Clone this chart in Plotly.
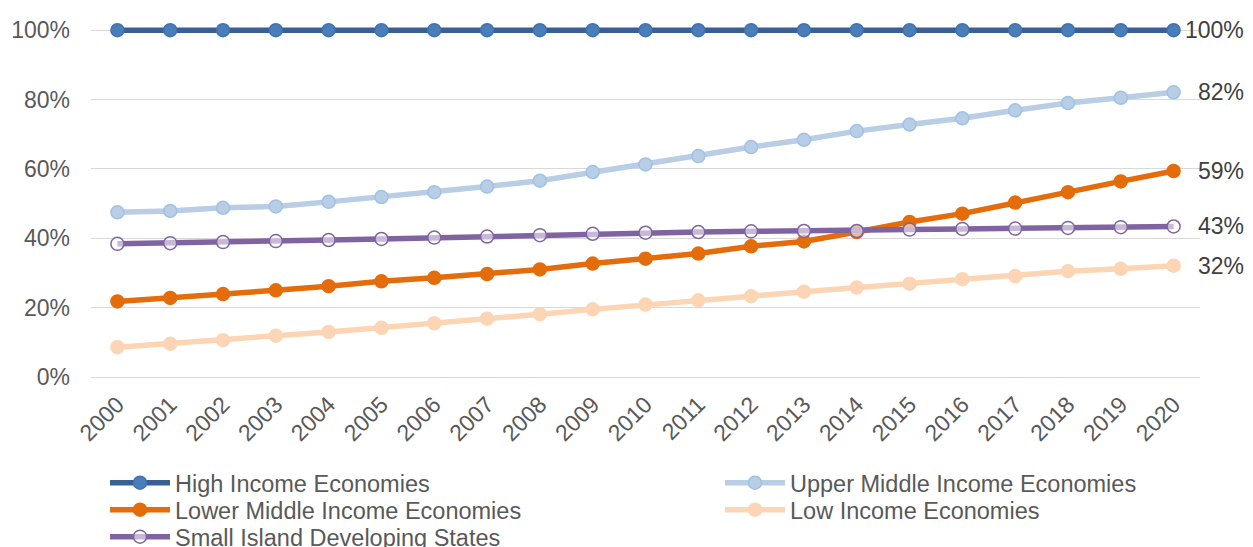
import plotly.graph_objects as go

# Categories (x axis)
years = ["2000", "2001", "2002", "2003", "2004", "2005", "2006", "2007", "2008", "2009", "2010",
         "2011", "2012", "2013", "2014", "2015", "2016", "2017", "2018", "2019", "2020"]

# Share of population (%) by income group
high_income = [100, 100, 100, 100, 100, 100, 100, 100, 100, 100, 100,
               100, 100, 100, 100, 100, 100, 100, 100, 100, 100]
upper_middle = [47.5, 47.9, 48.8, 49.2, 50.5, 51.9, 53.3, 54.9, 56.6, 59.1, 61.3,
                63.7, 66.3, 68.4, 70.9, 72.8, 74.6, 76.9, 79.0, 80.5, 82.1]
lower_middle = [21.8, 22.8, 23.9, 25.0, 26.2, 27.6, 28.6, 29.7, 31.0, 32.7, 34.1,
                35.6, 37.7, 39.1, 41.8, 44.7, 47.1, 50.3, 53.3, 56.4, 59.4]
low_income = [8.6, 9.6, 10.6, 11.9, 13.0, 14.2, 15.5, 16.8, 18.1, 19.5, 20.9,
              22.1, 23.3, 24.6, 25.8, 26.9, 28.2, 29.1, 30.5, 31.2, 32.1]
sids = [38.4, 38.6, 38.9, 39.2, 39.5, 39.8, 40.2, 40.5, 40.9, 41.3, 41.6,
        41.8, 42.0, 42.1, 42.1, 42.5, 42.7, 42.8, 43.0, 43.2, 43.4]

y_ticks = [0, 20, 40, 60, 80, 100]
y_tick_labels = ["0%", "20%", "40%", "60%", "80%", "100%"]

FONT = "Liberation Sans, Arial, sans-serif"
TEXT_GREY = "#595959"
GRID = "#D9D9D9"

W, H = 1253, 547
Y0_PX, Y100_PX = 377.0, 30.0          # pixel rows of the 0% and 100% gridlines
Y_TOP = 101.5                          # headroom so the 100% line is not clipped
PX_PER_UNIT = (Y0_PX - Y100_PX) / 100.0
M_L, M_R = 91, 53
M_B = H - Y0_PX
M_T = Y100_PX - (Y_TOP - 100) * PX_PER_UNIT
PW, PH = W - M_L - M_R, H - M_T - M_B


def px_x(px):
    return (px - M_L) / PW


def px_y(py):
    return (H - M_B - py) / PH


series = [
    # name, values, line colour, marker fill, marker outline, legend id
    ("High Income Economies", high_income, "#3A5F93", "#4A7EBB", "#3F72AF", "legend"),
    ("Upper Middle Income Economies", upper_middle, "#B9CDE5", "#B9CDE5", "#9DC3E6", "legend2"),
    ("Lower Middle Income Economies", lower_middle, "#E46C0A", "#E46C0A", "#E46C0A", "legend3"),
    ("Low Income Economies", low_income, "#FCD5B5", "#FCD5B5", "#FCD5B5", "legend4"),
    ("Small Island Developing States", sids, "#8064A2", "rgba(255,255,255,0.55)", "#8064A2", "legend5"),
]

fig = go.Figure()
for name, vals, lc, mf, ml, lg in series:
    fig.add_trace(go.Scatter(
        x=years, y=vals, name=name, mode="lines+markers",
        line=dict(color=lc, width=5.5),
        marker=dict(symbol="circle", size=13, color=mf, line=dict(color=ml, width=1.5)),
        cliponaxis=False, legend=lg,
    ))

# End-of-line value labels
for name, vals, lc, mf, ml, lg in series:
    fig.add_annotation(
        x=px_x(1246), xref="paper", y=vals[-1], yref="y",
        text=f"{vals[-1]:.0f}%", showarrow=False, xanchor="right", yanchor="middle",
        font=dict(family=FONT, size=23, color="#404040"),
    )

# One legend box per entry, laid out as a two-column key below the axis
legend_pos = {
    "legend": (105, 483),
    "legend2": (720, 483),
    "legend3": (105, 510),
    "legend4": (720, 510),
    "legend5": (105, 537),
}
legend_layout = {}
for key, (lx, ly) in legend_pos.items():
    legend_layout[key] = dict(
        x=px_x(lx), y=px_y(ly), xanchor="left", yanchor="middle",
        bgcolor="rgba(0,0,0,0)", borderwidth=0, itemwidth=60,
        font=dict(family=FONT, size=23.5, color=TEXT_GREY),
    )

fig.update_layout(
    width=W, height=H,
    margin=dict(l=M_L, r=M_R, t=M_T, b=M_B, autoexpand=False),
    paper_bgcolor="white", plot_bgcolor="white",
    font=dict(family=FONT, size=23, color=TEXT_GREY),
    showlegend=True,
    **legend_layout,
)

fig.update_xaxes(
    type="category", range=[-0.5, len(years) - 0.5],
    tickangle=-45, tickfont=dict(family=FONT, size=23, color=TEXT_GREY),
    showgrid=False, showline=True, linecolor=GRID, linewidth=1,
    ticks="", zeroline=False, ticklabelstandoff=4,
)
fig.update_yaxes(
    range=[0, Y_TOP], tickvals=y_ticks, ticktext=y_tick_labels,
    tickfont=dict(family=FONT, size=23, color=TEXT_GREY),
    showgrid=True, gridcolor=GRID, gridwidth=1,
    zeroline=False, showline=False, ticks="", ticklabelstandoff=20,
)

fig.write_html("out.html")
